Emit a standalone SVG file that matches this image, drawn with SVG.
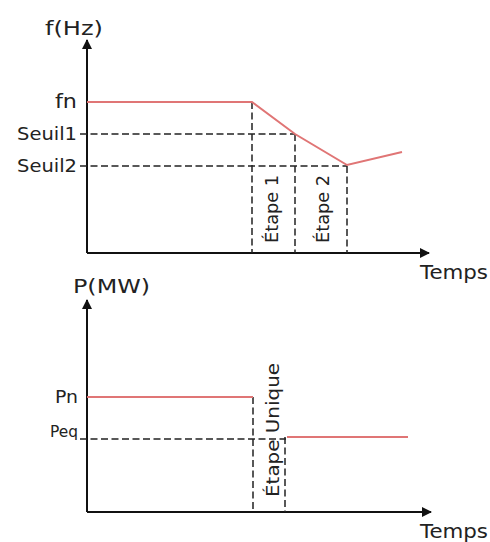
<svg xmlns="http://www.w3.org/2000/svg" width="490" height="542" viewBox="0 0 490 542">
<style>
.axis{stroke:#111;stroke-width:2;fill:none}
.red{stroke:#e07575;stroke-width:2;fill:none}
.dash{stroke:#222;stroke-width:1.5;stroke-dasharray:7 3.5;fill:none}
text{font-family:"DejaVu Sans","Liberation Sans",sans-serif;fill:#222}
.lbl{font-size:17px;text-anchor:end}
.ttl{font-size:20px}
.vt{font-size:17px;text-anchor:middle}
</style>
<defs>
<marker id="arr" viewBox="0 0 10 10" refX="9" refY="5" markerWidth="10" markerHeight="10" markerUnits="userSpaceOnUse" orient="auto">
<path d="M0,0 L10,5 L0,10 Z" fill="#111"/>
</marker>
</defs>
<rect width="490" height="542" fill="#fff"/>
<g id="connectors">
<path class="axis" d="M87,253 L87,40" marker-end="url(#arr)"/>
<path class="axis" d="M87,253 L429,253" marker-end="url(#arr)"/>
<path class="dash" d="M80,134 H295 M80,166 H347 M252,102 V253 M295,134 V253 M347,166 V253"/>
<path class="red" d="M87,102 H252 L295,134 L347,165 L402,152"/>
<path class="axis" d="M87,512 L87,300" marker-end="url(#arr)"/>
<path class="axis" d="M87,512 L431,512" marker-end="url(#arr)"/>
<path class="dash" d="M80,439 H286 M253,397 V512 M285,437 V512"/>
<path class="red" d="M87,397 H253 M287,437 H408"/>
</g>
<g id="top-labels">
<text class="ttl" x="45" y="35" textLength="58" lengthAdjust="spacingAndGlyphs">f(Hz)</text>
<text class="lbl" x="77" y="108" style="font-size:19px" textLength="22" lengthAdjust="spacingAndGlyphs">fn</text>
<text class="lbl" x="77" y="140" textLength="60" lengthAdjust="spacingAndGlyphs">Seuil1</text>
<text class="lbl" x="77" y="172" textLength="60" lengthAdjust="spacingAndGlyphs">Seuil2</text>
<text class="vt" transform="translate(278,209) rotate(-90)" textLength="68" lengthAdjust="spacingAndGlyphs">Étape 1</text>
<text class="vt" transform="translate(329,209) rotate(-90)" textLength="68" lengthAdjust="spacingAndGlyphs">Étape 2</text>
<text class="ttl" x="420" y="279" textLength="68" lengthAdjust="spacingAndGlyphs">Temps</text>
</g>
<g id="bottom-labels">
<text class="ttl" x="73" y="293" textLength="77" lengthAdjust="spacingAndGlyphs">P(MW)</text>
<text class="lbl" x="78" y="403" style="font-size:18px" textLength="23" lengthAdjust="spacingAndGlyphs">Pn</text>
<text class="lbl" x="78" y="437" style="font-size:15px" textLength="28" lengthAdjust="spacingAndGlyphs">Peq</text>
<text class="vt" transform="translate(279,430) rotate(-90)" textLength="134" lengthAdjust="spacingAndGlyphs">Étape Unique</text>
<text class="ttl" x="420" y="538" textLength="68" lengthAdjust="spacingAndGlyphs">Temps</text>
</g>
</svg>
